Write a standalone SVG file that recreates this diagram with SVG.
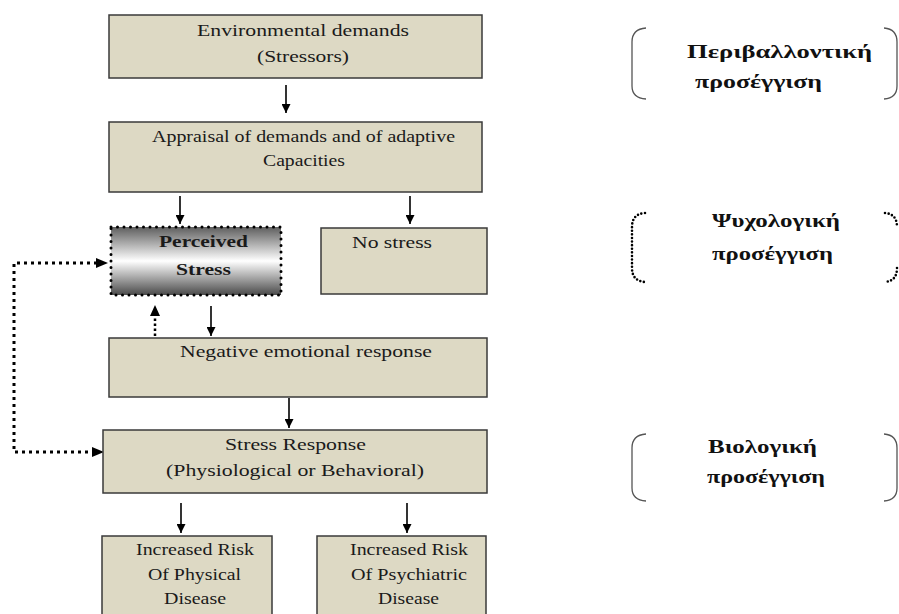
<svg xmlns="http://www.w3.org/2000/svg" width="899" height="614" viewBox="0 0 899 614">
<defs>
<style>
.box{fill:#DDD9C4;stroke:#3a3a3a;stroke-width:1.5}
.t{font-family:"Liberation Serif","Times New Roman",serif;font-size:16.5px;fill:#1a1a1a}
.b{font-weight:bold}
.g{font-family:"Liberation Serif","Times New Roman",serif;font-size:18px;font-weight:bold;fill:#111}
.arr{stroke:#000;stroke-width:1.6;fill:none;marker-end:url(#ah)}
.dot{stroke:#000;stroke-width:3;fill:none;stroke-dasharray:3 4}
.br{stroke:#555;stroke-width:1.3;fill:none}
.brd{stroke:#000;stroke-width:3;fill:none;stroke-dasharray:0 6.5;stroke-linecap:round}
.brs{stroke:#000;stroke-width:2.6;fill:none;stroke-dasharray:0 3.6;stroke-linecap:round}
</style>
<marker id="ah" viewBox="0 0 10 10" refX="10" refY="5" markerWidth="9" markerHeight="9" markerUnits="userSpaceOnUse" orient="auto-start-reverse">
<path d="M0,0 L10,5 L0,10 z" fill="#000"/>
</marker>
<linearGradient id="pg" x1="0" y1="0" x2="0" y2="1">
<stop offset="0" stop-color="#5e5e5e"/>
<stop offset="0.5" stop-color="#ffffff"/>
<stop offset="1" stop-color="#4a4a4a"/>
</linearGradient>
</defs>
<rect width="899" height="614" fill="#fff"/>

<g id="connectors">
<line class="arr" x1="286" y1="85" x2="286" y2="113"/>
<line class="arr" x1="180" y1="196" x2="180" y2="224"/>
<line class="arr" x1="410" y1="196" x2="410" y2="224"/>
<line class="arr" x1="211" y1="306" x2="211" y2="336"/>
<line class="arr" x1="289" y1="398" x2="289" y2="428"/>
<line class="arr" x1="181" y1="503" x2="181" y2="533"/>
<line class="arr" x1="407" y1="503" x2="407" y2="533"/>
<path class="dot" d="M95,452 H14 V263 H96"/>
<path d="M92,447 L104,452 L92,457 z" fill="#000"/>
<path d="M96,258 L108,263 L96,268 z" fill="#000"/>
<line x1="155" y1="336" x2="155" y2="314" stroke="#000" stroke-width="2.5" stroke-dasharray="2.5 2.5"/>
<path d="M150,316 L155,305 L160,316 z" fill="#000"/>
</g>

<g id="n_env">
<rect class="box" x="109" y="15" width="373" height="63"/>
<text class="t" x="303" y="36" text-anchor="middle" textLength="212" lengthAdjust="spacingAndGlyphs">Environmental demands</text>
<text class="t" x="303" y="62" text-anchor="middle" textLength="92" lengthAdjust="spacingAndGlyphs">(Stressors)</text>
</g>

<g id="n_appraisal">
<rect class="box" x="109" y="122" width="373" height="70"/>
<text class="t" x="303.5" y="142" text-anchor="middle" textLength="303" lengthAdjust="spacingAndGlyphs">Appraisal of demands and of adaptive</text>
<text class="t" x="304" y="166" text-anchor="middle" textLength="82" lengthAdjust="spacingAndGlyphs">Capacities</text>
</g>

<g id="n_perceived">
<rect x="111" y="227" width="170" height="68" fill="url(#pg)"/>
<rect class="brd" x="111" y="227" width="170" height="68"/>
<text class="t b" x="203.5" y="247" text-anchor="middle" textLength="89" lengthAdjust="spacingAndGlyphs">Perceived</text>
<text class="t b" x="203.5" y="275" text-anchor="middle" textLength="55" lengthAdjust="spacingAndGlyphs">Stress</text>
</g>

<g id="n_nostress">
<rect class="box" x="321" y="228" width="166" height="66"/>
<text class="t" x="352" y="248" textLength="80" lengthAdjust="spacingAndGlyphs">No stress</text>
</g>

<g id="n_negative">
<rect class="box" x="109" y="338" width="378" height="59"/>
<text class="t" x="180" y="357" textLength="252" lengthAdjust="spacingAndGlyphs">Negative emotional response</text>
</g>

<g id="n_response">
<rect class="box" x="103" y="430" width="384" height="63"/>
<text class="t" x="295.5" y="450" text-anchor="middle" textLength="141" lengthAdjust="spacingAndGlyphs">Stress Response</text>
<text class="t" x="295" y="476" text-anchor="middle" textLength="258" lengthAdjust="spacingAndGlyphs">(Physiological or Behavioral)</text>
</g>

<g id="n_physical">
<rect class="box" x="102" y="536" width="170" height="84"/>
<text class="t" x="195" y="555" text-anchor="middle" textLength="118" lengthAdjust="spacingAndGlyphs">Increased Risk</text>
<text class="t" x="194.5" y="580" text-anchor="middle" textLength="93" lengthAdjust="spacingAndGlyphs">Of Physical</text>
<text class="t" x="195" y="604" text-anchor="middle" textLength="62" lengthAdjust="spacingAndGlyphs">Disease</text>
</g>

<g id="n_psychiatric">
<rect class="box" x="317" y="536" width="169" height="84"/>
<text class="t" x="409" y="555" text-anchor="middle" textLength="118" lengthAdjust="spacingAndGlyphs">Increased Risk</text>
<text class="t" x="409" y="580" text-anchor="middle" textLength="116" lengthAdjust="spacingAndGlyphs">Of Psychiatric</text>
<text class="t" x="408.5" y="604" text-anchor="middle" textLength="61" lengthAdjust="spacingAndGlyphs">Disease</text>
</g>

<g id="n_env_approach">
<path class="br" d="M646,28 Q632,29 632,42 V86 Q632,98 646,99"/>
<path class="br" d="M884,28 Q897,29 897,42 V86 Q897,98 884,99"/>
<text class="g" x="687" y="58" textLength="185" lengthAdjust="spacingAndGlyphs">Περιβαλλοντική</text>
<text class="g" x="695" y="88" textLength="127" lengthAdjust="spacingAndGlyphs">προσέγγιση</text>
</g>

<g id="n_psy_approach">
<path class="brs" d="M645,213 Q632,214 632,227 V268 Q632,281 645,282"/>
<path class="brs" d="M885,213 Q897,214 897,227"/>
<path class="brs" d="M897,268 Q897,281 885,282"/>
<text class="g" x="712" y="227" textLength="128" lengthAdjust="spacingAndGlyphs">Ψυχολογική</text>
<text class="g" x="712" y="260" textLength="121" lengthAdjust="spacingAndGlyphs">προσέγγιση</text>
</g>

<g id="n_bio_approach">
<path class="br" d="M646,434 Q632,435 632,448 V488 Q632,500 646,501"/>
<path class="br" d="M884,434 Q897,435 897,448 V488 Q897,500 884,501"/>
<text class="g" x="708" y="453" textLength="109" lengthAdjust="spacingAndGlyphs">Βιολογική</text>
<text class="g" x="707" y="483" textLength="118" lengthAdjust="spacingAndGlyphs">προσέγγιση</text>
</g>
</svg>
